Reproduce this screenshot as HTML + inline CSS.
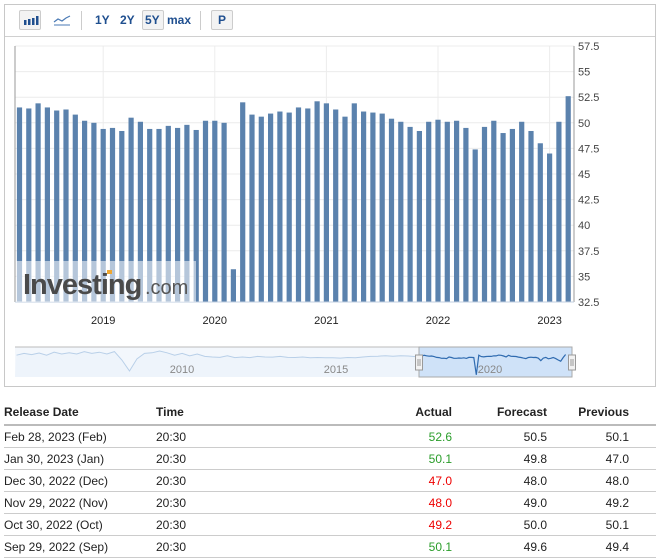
<!DOCTYPE html>
<html><head><meta charset="utf-8">
<style>
body{margin:0;background:#fff;font-family:"Liberation Sans",Arial,sans-serif;width:661px;height:557px;overflow:hidden;position:relative}
.frame{position:absolute;left:4px;top:4px;width:650px;height:381px;border:1px solid #c8c8c8}
.tb{position:absolute;left:0;top:0;width:650px;height:31px;border-bottom:1px solid #d0d0d0}
.btn{position:absolute;top:5px;height:20px;border:1px solid #ccc;border-radius:2px;background:#f3f3f3;box-sizing:border-box}
.lbl{position:absolute;top:8px;font-size:12px;font-weight:bold;color:#1f4f8f}
.sep{position:absolute;top:6px;width:1px;height:19px;background:#ccc}
table{position:absolute;left:4px;top:400px;width:652px;border-collapse:collapse;font-size:12px;color:#222}
th{font-weight:bold;text-align:left;height:24px;border-bottom:2px solid #bbb;padding:0}
td{height:21px;border-bottom:1px solid #ccc;padding:0}
.r{text-align:right}
.g{color:#2a9d2a}.red{color:#e00}
</style></head><body>
<div class="frame">
 <div class="tb">
  <div class="btn" style="left:14px;width:22px">
   <svg width="20" height="18"><rect x="4" y="9" width="2.5" height="5" fill="#1f4f8f"/><rect x="8" y="8" width="2.5" height="6" fill="#1f4f8f"/><rect x="12" y="7" width="2.5" height="7" fill="#1f4f8f"/><rect x="16" y="5" width="2.5" height="9" fill="#1f4f8f"/></svg>
  </div>
  <div style="position:absolute;left:48px;top:8px">
   <svg width="18" height="14"><path d="M1 9 L5 6 L9 8 L13 5 L17 3" fill="none" stroke="#4a7ab5" stroke-width="1.2"/><path d="M1 12 L17 12" stroke="#4a7ab5"/></svg>
  </div>
  <div class="sep" style="left:76px"></div>
  <span class="lbl" style="left:90px">1Y</span>
  <span class="lbl" style="left:115px">2Y</span>
  <div class="btn" style="left:137px;width:22px"><span class="lbl" style="left:2px;top:2px">5Y</span></div>
  <span class="lbl" style="left:162px">max</span>
  <div class="sep" style="left:195px"></div>
  <div class="btn" style="left:206px;width:22px"><span class="lbl" style="left:6px;top:2px">P</span></div>
 </div>
</div>
<svg id="chart" width="661" height="395" style="position:absolute;left:0;top:0"></svg>
<table>
<tr><th style="width:152px">Release Date</th><th style="width:200px">Time</th><th class="r" style="width:96px">Actual</th><th class="r" style="width:95px">Forecast</th><th class="r" style="width:82px">Previous</th><th></th></tr>
<tr><td>Feb 28, 2023 (Feb)</td><td>20:30</td><td class="r g">52.6</td><td class="r">50.5</td><td class="r">50.1</td><td></td></tr>
<tr><td>Jan 30, 2023 (Jan)</td><td>20:30</td><td class="r g">50.1</td><td class="r">49.8</td><td class="r">47.0</td><td></td></tr>
<tr><td>Dec 30, 2022 (Dec)</td><td>20:30</td><td class="r red">47.0</td><td class="r">48.0</td><td class="r">48.0</td><td></td></tr>
<tr><td>Nov 29, 2022 (Nov)</td><td>20:30</td><td class="r red">48.0</td><td class="r">49.0</td><td class="r">49.2</td><td></td></tr>
<tr><td>Oct 30, 2022 (Oct)</td><td>20:30</td><td class="r red">49.2</td><td class="r">50.0</td><td class="r">50.1</td><td></td></tr>
<tr><td>Sep 29, 2022 (Sep)</td><td>20:30</td><td class="r g">50.1</td><td class="r">49.6</td><td class="r">49.4</td><td></td></tr>
</table>
<script>
const values=[51.5,51.4,51.9,51.5,51.2,51.3,50.8,50.2,50.0,49.4,
49.5,49.2,50.5,50.1,49.4,49.4,49.7,49.5,49.8,49.3,50.2,50.2,
50.0,35.7,52.0,50.8,50.6,50.9,51.1,51.0,51.5,51.4,52.1,51.9,
51.3,50.6,51.9,51.1,51.0,50.9,50.4,50.1,49.6,49.2,50.1,50.3,
50.1,50.2,49.5,47.4,49.6,50.2,49.0,49.4,50.1,49.2,48.0,47.0,
50.1,52.6];
const yTicks=[32.5,35,37.5,40,42.5,45,47.5,50,52.5,55,57.5];
const yearLabels=["2019","2020","2021","2022","2023"];
const yearIndex=[9,21,33,45,57];
const navHistory=[52,53.5,52.5,53.8,52,54.5,53,54,53,55,53.5,54.5,53,55,48,38.8,
49,53.5,54,55.5,54,52,53.5,51.5,53,51,50.5,50.2,51.5,50,50.5,50,51,50.5,50.4,51,
50.2,50.1,50.5,49.8,50.1,49.9,49.8,49.6,50.1,49.9,50.5,51,51.2,51.6,51.2,51.6,51.3,50.8];
const navHistStart=2004.65, navHistEnd=2018.05;
const navYears=["2010","2015","2020"];
const navYearVals=[2010,2015,2020];

const NS="http://www.w3.org/2000/svg";
const svg=document.getElementById('chart');
function mk(t,a,p){const e=document.createElementNS(NS,t);for(const k in a)e.setAttribute(k,a[k]);(p||svg).appendChild(e);return e;}
const L=15,R=574,T=46,B=302;
const y=v=>B-(v-32.5)*(B-T)/25;
const x=i=>19.5+i*9.3;

mk('line',{x1:L,y1:T,x2:R,y2:T,stroke:'#bbb'});
yTicks.forEach(v=>{
 const g=mk('line',{x1:L,y1:y(v),x2:R,y2:y(v),stroke:'#ececec'});
 
 
 const t=mk('text',{x:578,y:y(v)+4,'font-size':11,fill:'#444'});
 t.textContent=v;
 
 
});
yearIndex.forEach((idx,k)=>{
 const g=mk('line',{x1:x(idx),y1:T,x2:x(idx),y2:B,stroke:'#ececec'});
 
 
 const t=mk('text',{x:x(idx),y:324,'font-size':11,fill:'#222','text-anchor':'middle'});
 t.textContent=yearLabels[k];
 
 
});
values.forEach((v,i)=>{
 const b=mk('rect',{x:x(i)-2.6,y:y(v),width:5.2,height:B-y(v),fill:'#5b82ad'});
 
 
});
mk('line',{x1:L,y1:T,x2:L,y2:B,stroke:'#999'});
mk('line',{x1:R,y1:T,x2:R,y2:B,stroke:'#999'});
mk('line',{x1:L,y1:B,x2:R,y2:B,stroke:'#c0cfe0'});
// watermark
mk('rect',{x:L+1,y:261,width:180,height:41,fill:'#fff',opacity:0.55});
const w=mk('text',{x:23,y:294,'font-size':29,'font-weight':'bold',fill:'#4a4a4a','letter-spacing':'-1.0'});
w.textContent='Investing';


const w2=mk('text',{x:145,y:294,'font-size':20,fill:'#555'});
w2.textContent='.com';
mk('rect',{x:107,y:270,width:5,height:4,fill:'#f0a830'});
// navigator
const NL=15,NR=572,NT=347,NB=377,navStart=2004.6,navEnd=2023.3;
const nx=t=>NL+(t-navStart)*(NR-NL)/(navEnd-navStart);
const lx=t=>182+(t-2010)*30.8;
const ny=v=>357+(50.5-v)*1.2;
const pts=[];
navHistory.forEach((v,i)=>pts.push([navHistStart+i*(navHistEnd-navHistStart)/(navHistory.length-1),v]));
values.forEach((v,i)=>pts.push([2018.17+i/12,v]));
let d='';pts.forEach((p,i)=>{d+=(i?'L':'M')+nx(p[0]).toFixed(1)+' '+ny(p[1]).toFixed(1);});
mk('rect',{x:NL,y:NT,width:NR-NL,height:NB-NT,fill:'#f3f7fc'});
mk('line',{x1:NL,y1:NT,x2:NR,y2:NT,stroke:'#bbb'});
mk('path',{d:d+`L${NR} ${NB}L${NL} ${NB}Z`,fill:'#eef4fb'});
const nl=mk('path',{d:d,fill:'none',stroke:'#b8cfe8','stroke-width':1});


const sx=419;
mk('rect',{x:sx,y:NT,width:NR-sx,height:NB-NT,fill:'#cfe2f8',stroke:'#aaa'});
mk('clipPath',{id:'cp'});
const cp=document.getElementById('cp');mk('rect',{x:sx,y:NT,width:NR-sx,height:NB-NT},cp);
mk('path',{d:d,fill:'none',stroke:'#2f6bb0','stroke-width':1.2,'clip-path':'url(#cp)'});
navYears.forEach((s,k)=>{
 const t=mk('text',{x:lx(navYearVals[k]),y:373,'font-size':11,fill:'#888','text-anchor':'middle'});
 t.textContent=s;
 
 
});
[sx,NR].forEach(hx=>{
 const h=mk('rect',{x:hx-3.5,y:355,width:7,height:15,fill:'#f2f2f2',stroke:'#999'});
 
 
 mk('line',{x1:hx-1,y1:359,x2:hx-1,y2:366,stroke:'#999'});
 mk('line',{x1:hx+1,y1:359,x2:hx+1,y2:366,stroke:'#999'});
});
</script>
</body></html>
